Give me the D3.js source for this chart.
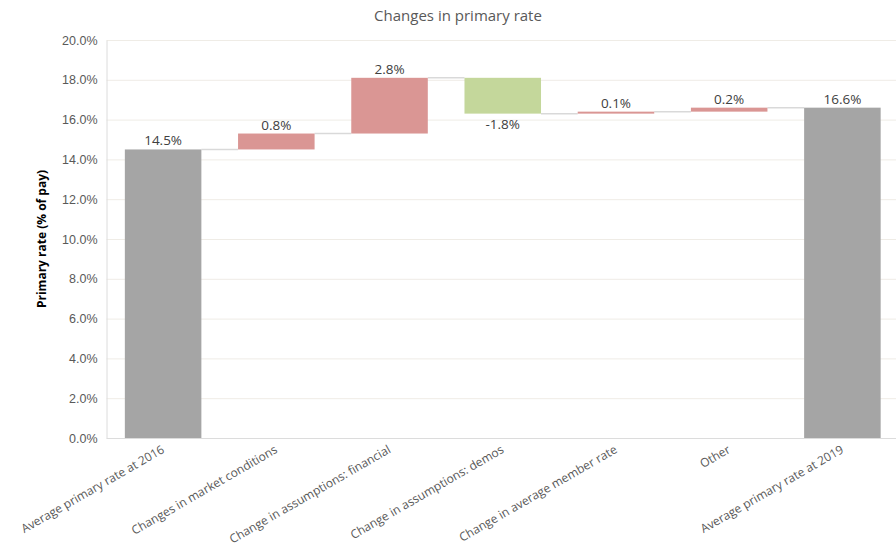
<!DOCTYPE html>
<html><head><meta charset="utf-8">
<script src="https://cdn.jsdelivr.net/npm/d3@7"></script>
<style>body{margin:0;background:#fff}svg{display:block;font-family:"Open Sans","Noto Sans",sans-serif}</style>
</head><body><svg id="c" width="896" height="548"></svg>
<script>
const categories = ["Average primary rate at 2016","Changes in market conditions","Change in assumptions: financial","Change in assumptions: demos","Change in average member rate","Other","Average primary rate at 2019"];
const startValue = 14.5;
const deltas = [0.8, 2.8, -1.8, 0.1, 0.2];
const yTicks = [0,2,4,6,8,10,12,14,16,18,20];
const title = "Changes in primary rate";
const yTitle = "Primary rate (% of pay)";

// build waterfall rows
const rows = [];
let run = startValue;
rows.push({cat:categories[0], y0:0, y1:startValue, v:startValue, type:"total"});
deltas.forEach((d,i)=>{
  const from = run; run = run + d;
  rows.push({cat:categories[i+1], y0:from, y1:run, v:d, type: d>=0?"up":"down"});
});
rows.push({cat:categories[6], y0:0, y1:run, v:run, type:"total"});

const svg = d3.select("#c");
const x = d3.scaleBand().domain(categories).range([106.5, 899]).paddingInner(0.324).paddingOuter(0.162);
const y = d3.scaleLinear().domain([0,20]).range([438, 40]);
const colors = {total:"#a5a5a5", up:"#da9694", down:"#c4d79b"};
const fmt = v => (v<0?"-":"") + Math.abs(v).toFixed(1);

// gridlines
svg.append("g").selectAll("line").data(yTicks.filter(t=>t>0)).join("line")
  .attr("x1",106.5).attr("x2",896).attr("y1",d=>y(d)+0.5).attr("y2",d=>y(d)+0.5)
  .attr("stroke","#efece6").attr("stroke-width",1);

// y axis
const yAxis = svg.append("g").attr("transform","translate(106.5,0)")
  .call(d3.axisLeft(y).tickValues(yTicks).tickFormat(d=>fmt(d)+"%").tickSize(0).tickPadding(9));
yAxis.select(".domain").attr("stroke","#dcdcdc");
yAxis.selectAll("text").attr("fill","#595959").style("font-size","12.5px");

// x axis line
svg.append("line").attr("x1",106.5).attr("x2",896).attr("y1",y(0)+0.5).attr("y2",y(0)+0.5).attr("stroke","#dcdcdc");

// connectors
svg.append("g").selectAll("line").data(rows.slice(0,-1)).join("line")
  .attr("x1",d=>x(d.cat)+x.bandwidth()).attr("x2",(d,i)=>x(rows[i+1].cat))
  .attr("y1",d=>y(d.y1)).attr("y2",d=>y(d.y1))
  .attr("stroke","#d9d9d9").attr("stroke-width",1.5);

// bars
svg.append("g").selectAll("rect").data(rows).join("rect")
  .attr("x",d=>x(d.cat)).attr("width",x.bandwidth())
  .attr("y",d=>y(Math.max(d.y0,d.y1))).attr("height",d=>Math.abs(y(d.y0)-y(d.y1)))
  .attr("fill",d=>colors[d.type]);

// data labels
svg.append("g").selectAll("text").data(rows).join("text")
  .attr("x",d=>x(d.cat)+x.bandwidth()/2)
  .attr("y",d=>d.type==="down" ? y(Math.min(d.y0,d.y1))+15 : y(Math.max(d.y0,d.y1))-4)
  .attr("text-anchor","middle").attr("fill","#404040").style("font-size","13.5px")
  .text(d=>fmt(d.v)+"%");

// x labels
svg.append("g").selectAll("text").data(categories).join("text")
  .attr("transform",d=>`translate(${x(d)+x.bandwidth()/2+2},${452}) rotate(-30)`)
  .attr("text-anchor","end").attr("fill","#595959").style("font-size","12px")
  .text(d=>d);

// title
svg.append("text").attr("x",458).attr("y",21).attr("text-anchor","middle")
  .attr("fill","#595959").style("font-size","15px").text(title);

// y title
svg.append("text").attr("transform","translate(46,239) rotate(-90)").attr("text-anchor","middle")
  .attr("fill","#000").style("font-size","12px").style("font-weight","bold").text(yTitle);
</script></body></html>
